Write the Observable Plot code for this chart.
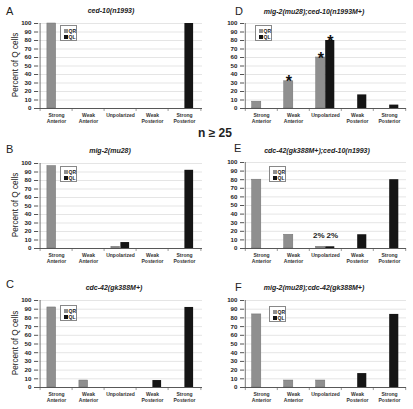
<!DOCTYPE html>
<html><head><meta charset="utf-8">
<script src="https://cdn.jsdelivr.net/npm/d3@7"></script>
<script src="https://cdn.jsdelivr.net/npm/@observablehq/plot@0.6"></script>
<style>
body{margin:0;background:#fff;}
#root{position:relative;width:413px;height:409px;overflow:hidden;font-family:"Liberation Sans",Arial,sans-serif;background:#fff;}
.abs{position:absolute;line-height:1;white-space:nowrap;}
.letter{font-size:11px;color:#222;}
.title{font-size:7px;font-weight:bold;font-style:italic;color:#222;transform:translateX(-50%);}
.legend{position:absolute;border:0.6px solid #888;background:#fff;width:17px;height:16px;box-sizing:border-box;}
.sw{position:absolute;width:4px;height:4px;}
.lt{position:absolute;font-size:5px;font-weight:bold;line-height:1;color:#222;}
.nlab{font-size:12px;font-weight:bold;color:#222;}
svg{position:absolute;overflow:visible;}
</style></head><body><div id="root"></div>
<script>
// ---- data ----
const categories = ["Strong Anterior","Weak Anterior","Unpolarized","Weak Posterior","Strong Posterior"];
const tickLabels = ["Strong\nAnterior","Weak\nAnterior","Unpolarized","Weak\nPosterior","Strong\nPosterior"];
const yTicks = [0,10,20,30,40,50,60,70,80,90,100];
const series = ["QR","QL"];
const letters = ["A","B","C","D","E","F"];
const titles = ["ced-10(n1993)","mig-2(mu28)","cdc-42(gk388M+)","mig-2(mu28);ced-10(n1993M+)","cdc-42(gk388M+);ced-10(n1993)","mig-2(mu28);cdc-42(gk388M+)"];
const yLabel = "Percent of Q cells";
const nLabel = "n \u2265 25";

const qrA = [100,0,0,0,0],  qlA = [0,0,0,0,100];
const qrB = [97,0,2,0,0],   qlB = [0,0,7,0,92];
const qrC = [92,8,0,0,0],   qlC = [0,0,0,8,92];
const qrD = [8,32,60,0,0],  qlD = [0,0,80,16,4];
const qrE = [80,16,2,0,0],  qlE = [0,0,2,16,80];
const qrF = [84,8,8,0,0],   qlF = [0,0,0,16,84];

// significance stars in D (series, category)
const starsD = [["QR","Weak Anterior"],["QR","Unpolarized"],["QL","Unpolarized"]];
// percent labels in E
const pctE = [["QR","Unpolarized","2%"],["QL","Unpolarized","2%"]];

// ---- layout ----
const panels = [
  {qr:qrA, ql:qlA, left:0,   w:206, ml:38, mr:4, y100:23,  y0:108, ylab:true,  tx:111, ty:10.5, lx:6,   ly:11,  gx:60,  gy:25},
  {qr:qrB, ql:qlB, left:0,   w:206, ml:38, mr:4, y100:163, y0:248, ylab:true,  tx:110, ty:150,  lx:6,   ly:149, gx:60,  gy:166},
  {qr:qrC, ql:qlC, left:0,   w:206, ml:38, mr:4, y100:300, y0:387, ylab:true,  tx:114, ty:287.5,lx:6,   ly:284.5, gx:60, gy:305},
  {qr:qrD, ql:qlD, left:206, w:207, ml:38, mr:7, y100:23,  y0:108, ylab:false, tx:314, ty:11,   lx:235, ly:11.5, gx:255, gy:25},
  {qr:qrE, ql:qlE, left:206, w:207, ml:38, mr:7, y100:162, y0:248, ylab:false, tx:317, ty:150.5,lx:234, ly:148.5, gx:269, gy:166},
  {qr:qrF, ql:qlF, left:206, w:207, ml:38, mr:7, y100:300, y0:387, ylab:false, tx:314, ty:287,  lx:235, ly:287, gx:269, gy:306}
];

const root = document.getElementById("root");
const GRAY = "#8f8f8f", BLACK = "#151515";
const barW = 9.5;

function addDiv(cls, text, left, top) {
  const d = document.createElement("div");
  d.className = "abs " + cls;
  d.textContent = text;
  d.style.left = left + "px";
  d.style.top = top + "px";
  root.appendChild(d);
  return d;
}

panels.forEach((p, idx) => {
  const mt = 20, mb = 24;
  const plotH = p.y0 - p.y100;
  const bw = (p.w - p.ml - p.mr) / categories.length;
  const rows = [];
  categories.forEach((c, i) => {
    rows.push({cat: c, series: "QR", value: p.qr[i]});
    rows.push({cat: c, series: "QL", value: p.ql[i]});
  });
  const nz = rows.filter(d => d.value > 0);
  const marks = [
    Plot.gridY(yTicks, {stroke: "#d4d4d4", strokeOpacity: 1, strokeWidth: 0.6}),
    Plot.barY(nz.filter(d => d.series === "QR"), {x: "cat", y: "value", fill: GRAY, stroke: "#707070", strokeWidth: 0.5, insetLeft: bw/2 - barW, insetRight: bw/2}),
    Plot.barY(nz.filter(d => d.series === "QL"), {x: "cat", y: "value", fill: BLACK, insetLeft: bw/2, insetRight: bw/2 - barW}),
    Plot.ruleY([0], {stroke: "#333", strokeWidth: 0.8}),
    Plot.ruleX(categories, {x: d => d, dx: -bw/2, y1: 0, y2: -3.5, stroke: "#555", strokeWidth: 0.6}),
    Plot.ruleX([categories[categories.length-1]], {x: d => d, dx: bw/2, y1: 0, y2: -3.5, stroke: "#555", strokeWidth: 0.6}),
    Plot.ruleX([categories[0]], {x: d => d, dx: -bw/2, y1: 0, y2: 100, stroke: "#555", strokeWidth: 0.8}),
    Plot.axisY({ticks: yTicks, tickSize: 4, tickPadding: 3, fontSize: 6.2, fontWeight: "bold", fill: "#222", stroke: "#555", label: null}),
    Plot.axisX({tickSize: 0, tickPadding: 4.5, tickFormat: d => tickLabels[categories.indexOf(d)], fontSize: 5, fontWeight: "bold", fill: "#333", lineHeight: 1.15, label: null})
  ];
  if (p.ylab) {
    marks.push(Plot.text([yLabel], {frameAnchor: "left", textAnchor: "middle", rotate: -90, dx: -23, dy: -1, fontSize: 8.2, fill: "#222"}));
  }
  if (idx === 3) {
    for (const s of series) {
      const pts = starsD.filter(d => d[0] === s).map(d => ({cat: d[1], value: rows.find(r => r.cat === d[1] && r.series === s).value}));
      marks.push(Plot.text(pts, {x: "cat", y: "value", text: () => "*", dx: s === "QR" ? -barW/2 : barW/2, dy: 1, fontSize: 16, fontWeight: "bold", fill: "#111"}));
    }
  }
  if (idx === 4) {
    for (const s of series) {
      const pts = pctE.filter(d => d[0] === s).map(d => ({cat: d[1], label: d[2], value: rows.find(r => r.cat === d[1] && r.series === s).value}));
      marks.push(Plot.text(pts, {x: "cat", y: "value", text: "label", dx: s === "QR" ? -barW/2 - 2 : barW/2 + 2, dy: -11, fontSize: 8, fontWeight: "bold", fill: "#222"}));
    }
  }
  const svg = Plot.plot({
    width: p.w,
    height: mt + plotH + mb,
    marginTop: mt, marginBottom: mb, marginLeft: p.ml, marginRight: p.mr,
    x: {domain: categories, padding: 0, axis: null},
    y: {domain: [0, 100], axis: null},
    style: {fontFamily: "'Liberation Sans', Arial, sans-serif", fontSize: "6px", background: "transparent", overflow: "visible"},
    marks
  });
  svg.style.left = p.left + "px";
  svg.style.top = (p.y100 - mt) + "px";
  root.appendChild(svg);

  // panel letter & title
  addDiv("letter", letters[idx], p.lx, p.ly - 0.49*11);
  addDiv("title", titles[idx], p.tx, p.ty - 0.5*7);

  // legend
  const lg = document.createElement("div");
  lg.className = "legend";
  lg.style.left = p.gx + "px";
  lg.style.top = p.gy + "px";
  series.forEach((s, k) => {
    const sw = document.createElement("div");
    sw.className = "sw";
    sw.style.background = s === "QR" ? GRAY : BLACK;
    sw.style.left = "2.5px";
    sw.style.top = (3 + k*6) + "px";
    lg.appendChild(sw);
    const t = document.createElement("div");
    t.className = "lt";
    t.textContent = s;
    t.style.left = "7.5px";
    t.style.top = (2.6 + k*6) + "px";
    lg.appendChild(t);
  });
  root.appendChild(lg);
});

addDiv("nlab", nLabel, 198, 132.5 - 0.49*12);
</script></body></html>
